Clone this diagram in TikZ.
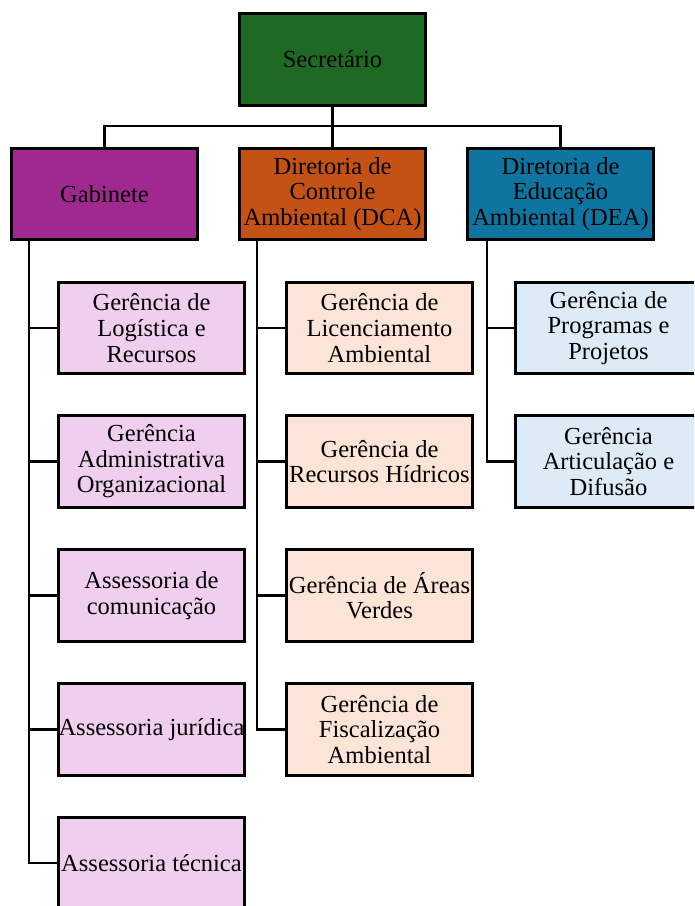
\documentclass[tikz,border=0pt]{standalone}
\usepackage{fontspec}
\setmainfont{Liberation Serif}
\definecolor{secgreen}{RGB}{30,106,36}
\definecolor{gabpurple}{RGB}{160,41,143}
\definecolor{dcaorange}{RGB}{196,82,20}
\definecolor{deablue}{RGB}{14,116,160}
\definecolor{lpink}{RGB}{240,206,238}
\definecolor{lpeach}{RGB}{252,228,214}
\definecolor{lblue}{RGB}{221,235,247}
\begin{document}
\begin{tikzpicture}[x=0.75pt,y=-0.75pt,
  box/.style={draw=black, line width=2.25pt, minimum width=139.5pt, minimum height=68.5pt,
    inner sep=0pt, align=center, font=\fontsize{18.4}{19.2}\selectfont},
  conn/.style={line width=1.6pt}]
\useasboundingbox (0,0) rectangle (694,906);
\clip (0,0) rectangle (694,906);
% top levels
\node[box, fill=secgreen] (sec) at (332.5,59.5) {Secretário};
\node[box, fill=gabpurple] (gab) at (104.5,194) {Gabinete};
\node[box, fill=dcaorange] (dca) at (332.5,194) {Diretoria de\\Controle\\Ambiental (DCA)};
\node[box, fill=deablue] (dea) at (560.5,194) {Diretoria de\\Educação\\Ambiental (DEA)};
% Gabinete children
\node[box, fill=lpink] (g1) at (151.5,328) {Gerência de\\Logística e\\Recursos};
\node[box, fill=lpink] (g2) at (151.5,461.5) {Gerência\\Administrativa\\Organizacional};
\node[box, fill=lpink] (g3) at (151.5,595.5) {Assessoria de\\comunicação};
\node[box, fill=lpink] (g4) at (151.5,729.5) {Assessoria jurídica};
\node[box, fill=lpink] (g5) at (151.5,863) {Assessoria técnica};
% DCA children
\node[box, fill=lpeach] (c1) at (379.5,328) {Gerência de\\Licenciamento\\Ambiental};
\node[box, fill=lpeach] (c2) at (379.5,461.5) {Gerência de\\Recursos Hídricos};
\node[box, fill=lpeach] (c3) at (379.5,595.5) {Gerência de Áreas\\Verdes};
\node[box, fill=lpeach] (c4) at (379.5,729.5) {Gerência de\\Fiscalização\\Ambiental};
% DEA children
\node[box, fill=lblue] (e1) at (608.5,328) {Gerência de\\Programas e\\Projetos};
\node[box, fill=lblue] (e2) at (608.5,461.5) {Gerência\\Articulação e\\Difusão};
% connectors
\coordinate (bus) at (332.5,126);
\coordinate (gx) at (29,0);
\coordinate (cx) at (257,0);
\coordinate (ex) at (487,0);
\draw[conn] (sec.south) -- (dca.north);
\draw[conn] (gab.north) -- (gab.north |- bus) -- (dea.north |- bus) -- (dea.north);
\draw[conn] (gab.south -| gx) |- (g5.west);
\foreach \n in {g1,g2,g3,g4} \draw[conn] (\n.west) -- (\n.west -| gx);
\draw[conn] (dca.south -| cx) |- (c4.west);
\foreach \n in {c1,c2,c3} \draw[conn] (\n.west) -- (\n.west -| cx);
\draw[conn] (dea.south -| ex) |- (e2.west);
\draw[conn] (e1.west) -- (e1.west -| ex);
\end{tikzpicture}
\end{document}
